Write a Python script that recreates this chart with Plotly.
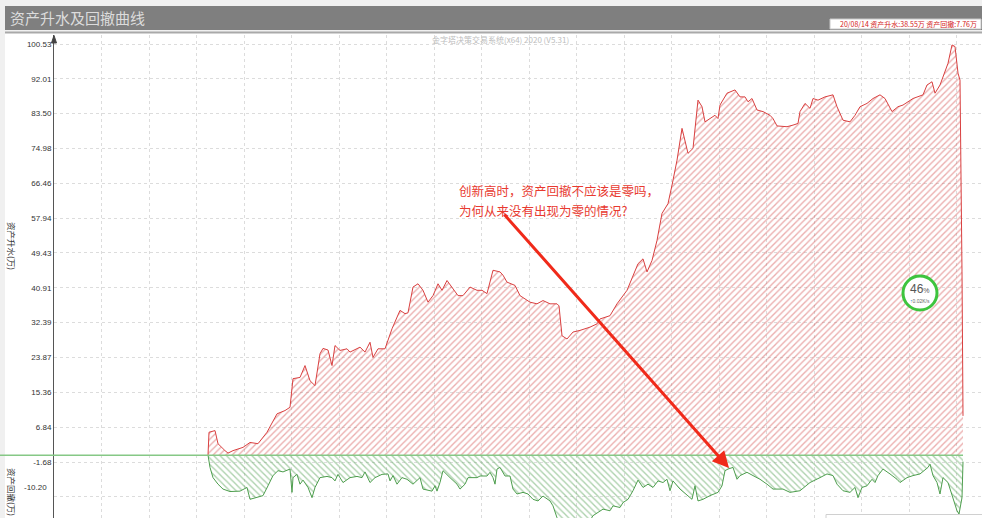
import plotly.graph_objects as go

# ---------------- data ----------------
y_tick_vals = [100.53, 92.01, 83.50, 74.98, 66.46, 57.94, 49.43, 40.91,
               32.39, 23.87, 15.36, 6.84, -1.68, -10.20]

# asset premium (资产升水, 万) by bar number
rise_bar = [0, 2, 14, 20, 34, 40, 50, 70, 84, 100, 118, 138, 154, 164, 170, 184, 194, 204, 214,
            224, 230, 240, 248, 254, 264, 278, 284, 298, 304, 314, 324, 330, 340, 354, 368, 384,
            394, 400, 410, 420, 430, 440, 450, 460, 468, 478, 488, 500, 510, 524, 538, 548, 558,
            570, 584, 590, 598, 614, 624, 644, 658, 670, 684, 698, 702, 708, 718, 730, 744, 764,
            778, 784, 804, 818, 838, 850, 860, 870, 878, 888, 898, 908, 920, 928, 938, 948, 954,
            960, 970, 978, 980, 988, 994, 1004, 1014, 1020, 1024, 1038, 1054, 1064, 1074, 1080,
            1088, 1098, 1110, 1124, 1130, 1138, 1158, 1170, 1180, 1184, 1194, 1204, 1210, 1220,
            1234, 1250, 1258, 1270, 1284, 1294, 1304, 1318, 1330, 1344, 1354, 1368, 1380, 1390,
            1410, 1430, 1438, 1448, 1454, 1464, 1474, 1480, 1488, 1494, 1500, 1504, 1508, 1510]
rise_val = [0, 5.6, 6.0, 2.8, 1.1, 0.5, 1.1, 1.9, 3.1, 2.8, 5.6, 10.1, 10.9, 11.7, 18.7, 19.0, 21.9,
            18.2, 17.0, 24.8, 26.1, 25.7, 21.9, 26.8, 25.6, 26.0, 25.2, 26.0, 26.4, 25.2, 27.6, 23.9,
            26.0, 26.0, 30.9, 35.4, 34.6, 34.8, 41.1, 41.9, 40.3, 37.4, 39.0, 41.9, 40.3, 42.7, 41.1,
            39.0, 39.0, 41.1, 40.3, 40.3, 39.5, 45.2, 44.8, 44.0, 42.3, 41.5, 39.0, 37.4, 37.0, 37.8,
            37.0, 37.0, 36.5, 29.2, 28.4, 30.1, 30.5, 31.3, 32.1, 33.3, 34.1, 37.0, 40.3, 43.9, 46.8,
            48.0, 44.8, 47.6, 52.5, 59.1, 61.5, 66.0, 72.1, 79.9, 77.0, 73.8, 75.0, 85.2, 86.8, 85.2,
            81.5, 82.3, 83.1, 82.3, 85.6, 88.5, 89.3, 87.6, 87.6, 86.4, 87.2, 84.4, 84.0, 83.1, 82.3,
            80.5, 80.3, 80.7, 81.1, 84.0, 86.0, 84.8, 87.2, 86.8, 87.6, 88.1, 85.2, 81.9, 81.5, 83.1,
            85.2, 86.0, 87.2, 88.1, 87.2, 84.0, 85.2, 85.6, 87.2, 88.1, 90.5, 91.3, 88.5, 90.5, 93.8,
            95.8, 100.3, 99.9, 93.4, 91.7, 45.0, 9.6]

# drawdown (资产回撤, 万) by bar number
dd_bar = [0, 4, 10, 20, 30, 44, 64, 78, 84, 98, 110, 120, 130, 140, 150, 164, 168, 170, 178, 184,
          190, 200, 208, 214, 224, 238, 248, 254, 260, 270, 284, 298, 308, 314, 324, 334, 348, 360,
          364, 370, 378, 388, 398, 410, 424, 430, 448, 454, 458, 464, 470, 484, 498, 504, 514, 520,
          538, 544, 558, 564, 570, 574, 578, 584, 594, 604, 610, 618, 630, 640, 650, 660, 670, 684,
          690, 698, 704, 718, 744, 764, 770, 790, 804, 810, 824, 830, 840, 850, 860, 870, 880, 890,
          900, 910, 918, 924, 930, 944, 958, 968, 974, 980, 990, 1004, 1020, 1028, 1034, 1040, 1050,
          1058, 1064, 1078, 1090, 1104, 1118, 1130, 1150, 1164, 1184, 1204, 1224, 1238, 1250, 1258,
          1270, 1284, 1294, 1300, 1308, 1318, 1328, 1334, 1340, 1350, 1364, 1378, 1384, 1398, 1410,
          1424, 1440, 1444, 1450, 1458, 1464, 1470, 1480, 1490, 1498, 1502, 1508, 1510]
dd_val = [0, -3.0, -5.5, -7.1, -8.3, -8.9, -8.8, -7.9, -10.8, -10.4, -9.9, -7.5, -5.0, -3.8, -4.1,
          -3.4, -9.1, -5.5, -4.7, -7.1, -6.1, -7.9, -10.4, -7.9, -5.5, -5.2, -5.5, -6.3, -4.7, -6.7,
          -5.5, -5.2, -5.5, -4.1, -6.7, -5.5, -4.7, -4.6, -6.3, -5.0, -7.1, -5.5, -5.9, -7.1, -5.5,
          -8.3, -8.8, -7.5, -8.8, -6.7, -3.8, -5.5, -7.1, -8.3, -7.1, -5.5, -5.5, -5.1, -5.1, -4.2,
          -5.5, -7.1, -3.4, -3.0, -5.1, -5.1, -8.3, -9.5, -9.1, -9.5, -10.8, -11.2, -10.0, -11.2,
          -12.4, -15.3, -17.0, -17.5, -16.8, -16.0, -14.8, -13.2, -13.6, -12.4, -12.8, -11.6, -10.8,
          -8.7, -6.1, -7.9, -7.1, -7.9, -6.3, -6.7, -5.9, -8.7, -6.3, -8.3, -9.9, -10.8, -7.5, -11.2,
          -10.8, -9.9, -9.1, -7.5, -3.8, -3.4, -3.0, -5.9, -5.0, -4.2, -5.0, -5.9, -7.1, -8.3, -8.3,
          -9.1, -8.7, -6.7, -5.5, -4.6, -5.0, -7.1, -8.7, -9.1, -7.9, -10.4, -7.9, -7.5, -5.9, -6.7,
          -5.0, -3.4, -4.6, -5.9, -6.7, -5.5, -5.0, -4.6, -3.0, -2.2, -5.0, -6.7, -9.5, -5.5, -6.7,
          -10.4, -13.6, -14.4, -10.4, -1.6]

x_range = [-308, 1548]
y_range = [-15.37, 102.73]

# ---------------- layout helpers ----------------
W, H = 982, 518
ML, MT = 54, 35


def fx(px):
    return (px - ML) / (W - ML)


def fy(py):
    return (H - py) / (H - MT)


CJK = "Noto Sans CJK SC"

fig = go.Figure()

fig.add_trace(go.Scatter(
    x=rise_bar, y=rise_val, mode="lines", fill="tozeroy",
    line=dict(color="#d94040", width=1),
    fillcolor="rgba(0,0,0,0)",
    fillpattern=dict(shape="/", fgcolor="#d85c5c", bgcolor="rgba(255,255,255,0)",
                     size=4.5, solidity=0.3),
    hoverinfo="skip", showlegend=False))

fig.add_trace(go.Scatter(
    x=dd_bar, y=dd_val, mode="lines", fill="tozeroy",
    line=dict(color="#4e9e4e", width=1),
    fillcolor="rgba(0,0,0,0)",
    fillpattern=dict(shape="\\", fgcolor="#5aa45a", bgcolor="rgba(255,255,255,0)",
                     size=4.5, solidity=0.3),
    hoverinfo="skip", showlegend=False))

tick_text = ["%.2f" % v for v in y_tick_vals]
tick_text[-1] = ""   # drawn separately (shifted up like the reference)

shapes = [
    # white chart panel
    dict(type="rect", xref="paper", yref="paper", x0=fx(5), x1=fx(982), y0=fy(518), y1=fy(33),
         fillcolor="white", line=dict(width=0), layer="below"),
    # title bar
    dict(type="rect", xref="paper", yref="paper", x0=fx(5), x1=fx(982), y0=fy(30), y1=fy(6),
         fillcolor="#7f7f7f", line=dict(width=0)),
    # line under title bar
    dict(type="line", xref="paper", yref="paper", x0=fx(5), x1=fx(982), y0=fy(32.5), y1=fy(32.5),
         line=dict(color="#a9a9a9", width=2)),
    # info box
    dict(type="rect", xref="paper", yref="paper", x0=fx(830), x1=fx(981), y0=fy(29), y1=fy(19),
         fillcolor="white", line=dict(color="#c8c8c8", width=1)),
    # y axis arrow
    dict(type="path", xref="paper", yref="paper",
         path="M %f,%f L %f,%f L %f,%f Z" % (fx(54), fy(35.5), fx(51.5), fy(43), fx(56.5), fy(43)),
         fillcolor="#444", line=dict(color="#444", width=1)),
    # zero line
    dict(type="line", xref="paper", yref="y", x0=fx(0), x1=fx(963), y0=0, y1=0,
         line=dict(color="#86c886", width=1.5)),
    # progress widget ring
    dict(type="circle", xref="paper", yref="paper", x0=fx(903), x1=fx(937), y0=fy(310), y1=fy(276),
         fillcolor="white", line=dict(color="#3ec43e", width=3)),
    # popup edge at bottom right
    dict(type="rect", xref="paper", yref="paper", x0=fx(826), x1=fx(983), y0=fy(519), y1=fy(514.5),
         fillcolor="white", line=dict(color="#d0d0d0", width=1)),
]

annotations = [
    dict(text="资产升水及回撤曲线", x=fx(8), y=fy(18), xref="paper", yref="paper",
         xanchor="left", yanchor="middle", showarrow=False,
         font=dict(family=CJK, size=15, color="#dcdcdc")),
    dict(text="金字塔决策交易系统(x64) 2020 (V5.31)", x=fx(500), y=fy(40), xref="paper", yref="paper",
         xanchor="center", yanchor="middle", showarrow=False,
         font=dict(family=CJK, size=8, color="#bdbdbd")),
    dict(text="20/08/14 资产升水:38.55万 资产回撤:7.76万", x=fx(979), y=fy(24), xref="paper",
         yref="paper", xanchor="right", yanchor="middle", showarrow=False,
         font=dict(family=CJK, size=7, color="#d42020")),
    dict(text="资产升水(万)", x=fx(12), y=fy(246), xref="paper", yref="paper", textangle=90,
         xanchor="center", yanchor="middle", showarrow=False,
         font=dict(family=CJK, size=8.5, color="#333")),
    dict(text="资产回撤(万)", x=fx(12), y=fy(492), xref="paper", yref="paper", textangle=90,
         xanchor="center", yanchor="middle", showarrow=False,
         font=dict(family=CJK, size=8.5, color="#333")),
    dict(text="%.2f" % y_tick_vals[-1], x=fx(49), y=fy(487.5), xref="paper", yref="paper",
         xanchor="right", yanchor="middle", showarrow=False,
         font=dict(family="Liberation Sans", size=8, color="#333")),
    dict(text="创新高时，资产回撤不应该是零吗，", x=fx(457), y=fy(190), xref="paper", yref="paper",
         xanchor="left", yanchor="middle", showarrow=False,
         font=dict(family=CJK, size=12.5, color="#e83a30")),
    dict(text="为何从来没有出现为零的情况?", x=fx(457), y=fy(210), xref="paper", yref="paper",
         xanchor="left", yanchor="middle", showarrow=False,
         font=dict(family=CJK, size=12.5, color="#e83a30")),
    dict(text="", x=fx(729), y=fy(468), xref="paper", yref="paper",
         ax=503 - 729, ay=213 - 468, axref="pixel", ayref="pixel",
         showarrow=True, arrowhead=2, arrowsize=1.1, arrowwidth=3, arrowcolor="#f02a1a"),
    dict(text="46<span style='font-size:7px'>%</span>", x=fx(920), y=fy(289), xref="paper",
         yref="paper", xanchor="center", yanchor="middle", showarrow=False,
         font=dict(family="Liberation Sans", size=12, color="#555")),
    dict(text="<span style='color:#2a8ad8'>↑</span>0.02K/s", x=fx(920), y=fy(300.5), xref="paper",
         yref="paper", xanchor="center", yanchor="middle", showarrow=False,
         font=dict(family="Liberation Sans", size=5, color="#666")),
]

fig.update_layout(
    width=W, height=H, autosize=False,
    margin=dict(l=ML, r=0, t=MT, b=0, pad=0),
    paper_bgcolor="#f0f0f0", plot_bgcolor="white",
    shapes=shapes, annotations=annotations, showlegend=False,
    xaxis=dict(range=x_range, showticklabels=False, ticks="", showline=False, zeroline=False,
               showgrid=True, gridcolor="#dcdcdc", griddash="dot", gridwidth=1,
               tick0=-308, dtick=95),
    yaxis=dict(range=y_range, tickvals=y_tick_vals, ticktext=tick_text, ticks="",
               tickfont=dict(family="Liberation Sans", size=8, color="#333"),
               showline=True, linecolor="#555", linewidth=1, zeroline=False,
               showgrid=True, gridcolor="#dcdcdc", griddash="dot", gridwidth=1),
)

fig.write_html(
    "out.html",
    config={"displayModeBar": False},
    post_script="document.body.style.margin='0';document.body.style.padding='0';"
                "document.body.style.overflow='hidden';",
)
